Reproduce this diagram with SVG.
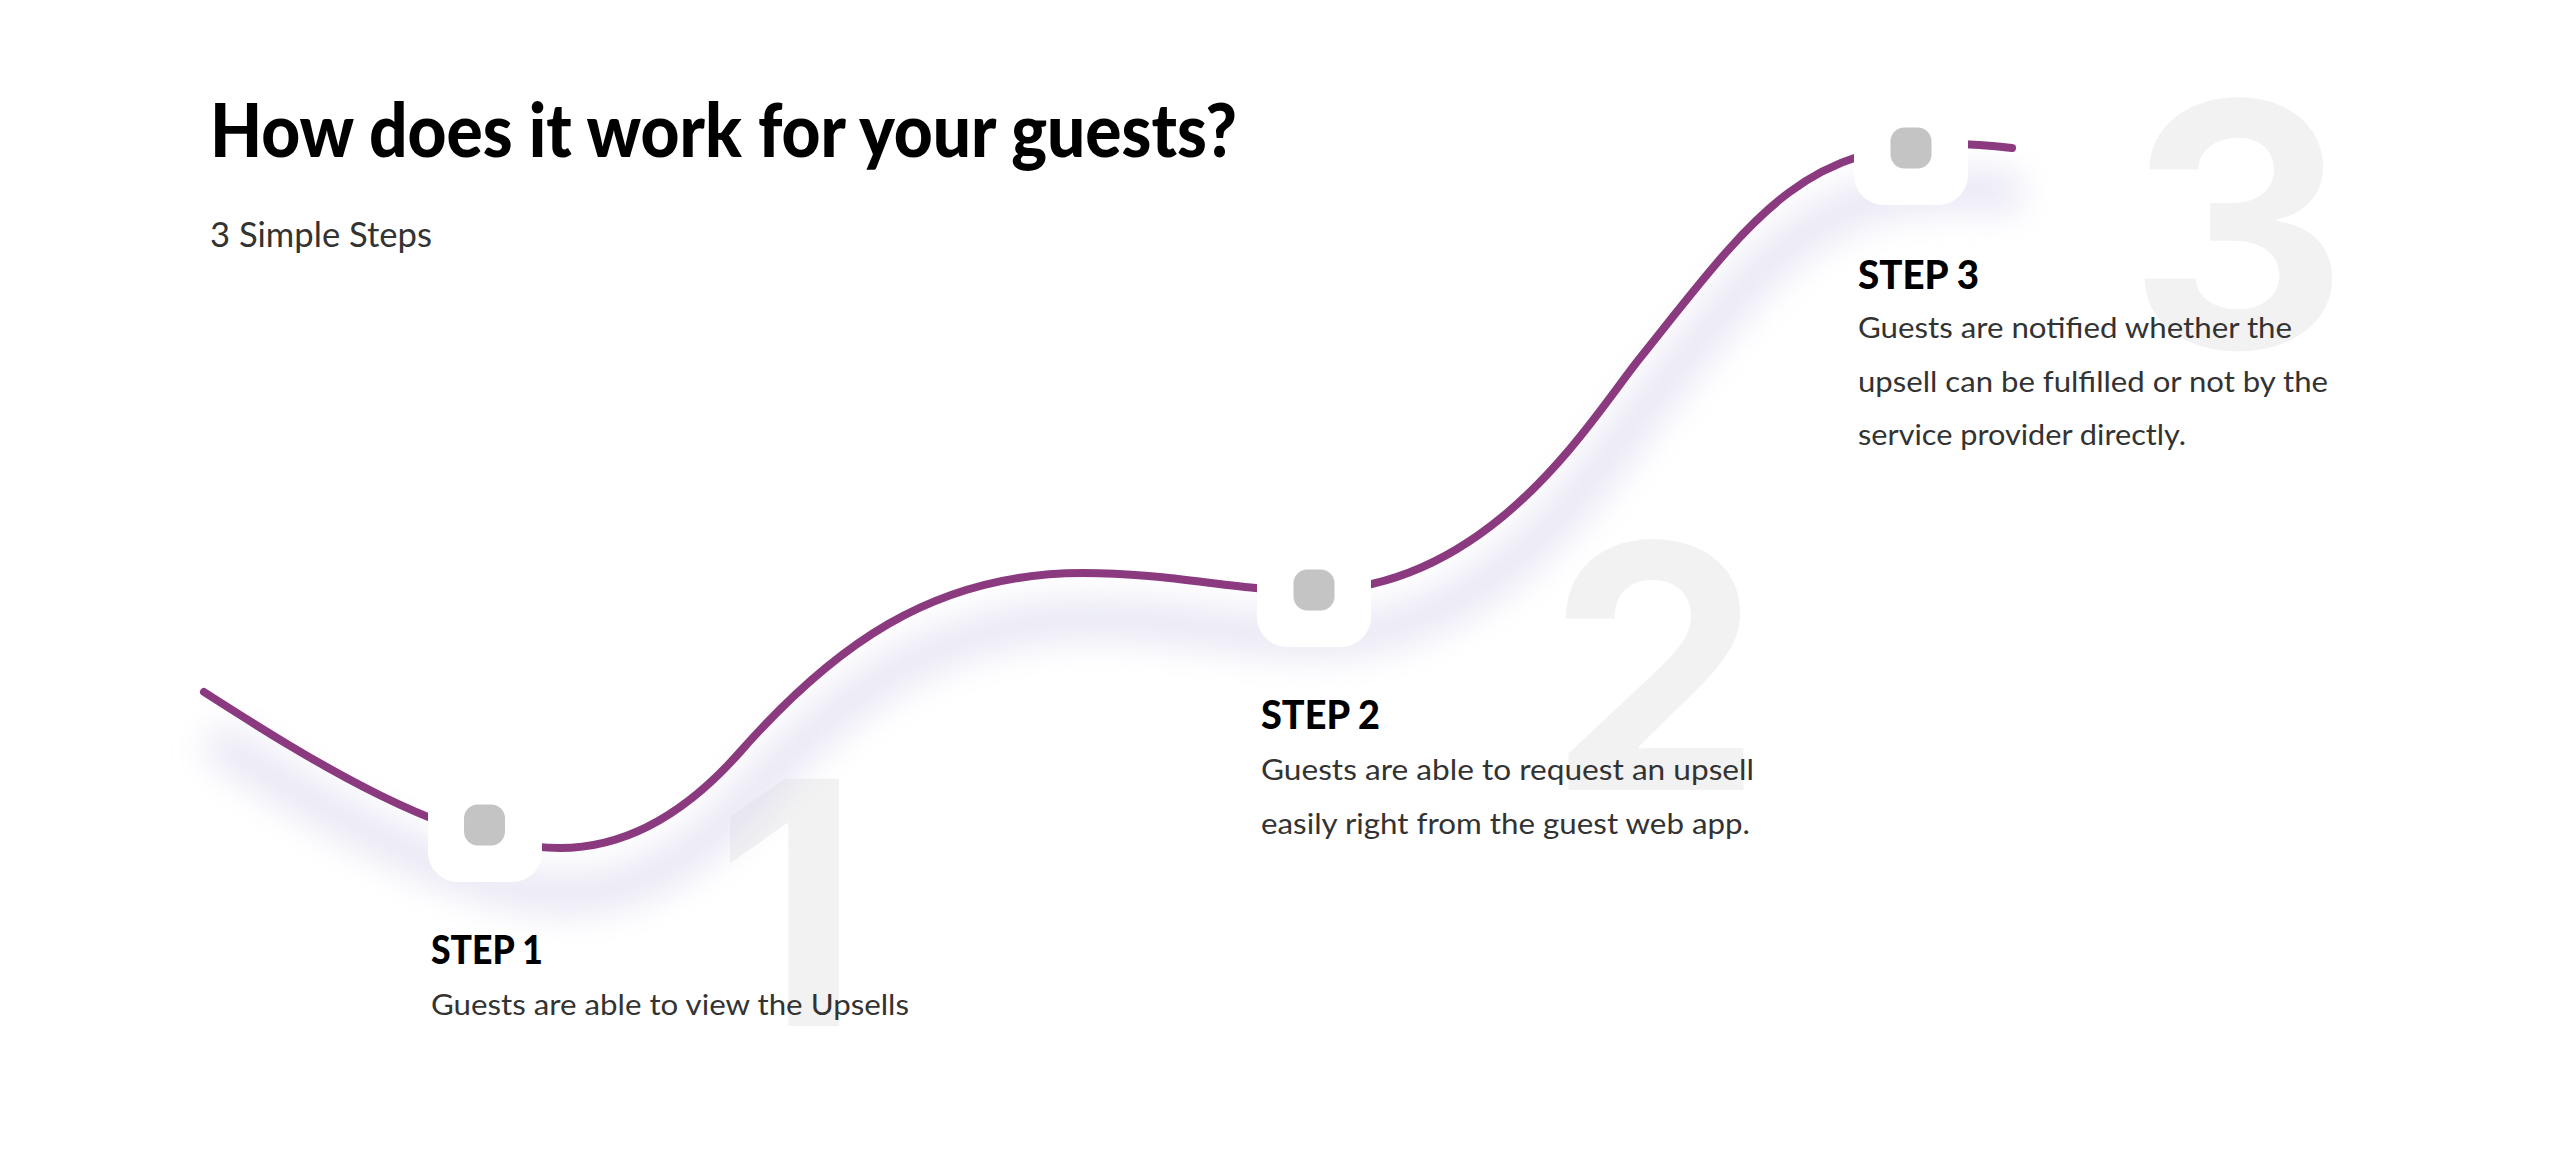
<svg xmlns="http://www.w3.org/2000/svg" width="2558" height="1154" viewBox="0 0 2558 1154">
<defs>
<filter id="blur" x="-20%" y="-20%" width="140%" height="140%"><feGaussianBlur stdDeviation="18"/></filter>
<path id="curve" d="M204,692 C310,760 450,848 560,848 C630,848 690,808.7 740,752 C830,650 930,573 1083,573 C1170,573 1240,591 1310,591 C1490,591 1590,420.5 1640,358 C1750,220.5 1800,144 1950,144 C1975,144 1995,146 2012,148"/>
</defs>
<style>
.digit{font-family:Inter,"Liberation Sans",sans-serif;font-weight:700;font-size:340px;fill:#f2f2f2;text-anchor:middle}
.title{font-family:Lato,"Liberation Sans",sans-serif;font-weight:900;font-size:74px;fill:#000}
.sub{font-family:Lato,"Liberation Sans",sans-serif;font-weight:400;font-size:34px;fill:#333}
.step{font-family:Lato,"Liberation Sans",sans-serif;font-weight:900;font-size:40px;fill:#000}
.body{font-family:Lato,"Liberation Sans",sans-serif;font-weight:400;font-size:29px;fill:#333}
.box{fill:#fff}
.dot{fill:#c4c4c4}
</style>
<rect width="2558" height="1154" fill="#fff"/>
<g id="digits">
<text class="digit" x="788" y="1026">1</text>
<text class="digit" x="1655" y="790">2</text>
<text class="digit" x="2238" y="348">3</text>
</g>
<g id="header">
<text class="title" x="210" y="157" textLength="1027" lengthAdjust="spacingAndGlyphs">How does it work for your guests?</text>
<text class="sub" x="210" y="247" textLength="222" lengthAdjust="spacingAndGlyphs">3 Simple Steps</text>
</g>
<g id="connectors">
<use href="#curve" fill="none" stroke="#dddbf0" stroke-opacity="0.7" stroke-width="38" transform="translate(8,46)" filter="url(#blur)"/>
<use href="#curve" fill="none" stroke="#8b3a7f" stroke-width="8" stroke-linecap="round"/>
</g>
<g id="step1">
<rect class="box" x="428" y="768" width="114" height="114" rx="30"/>
<rect class="dot" x="464" y="804.5" width="41" height="41" rx="14"/>
<text class="step" x="431" y="964" textLength="112" lengthAdjust="spacingAndGlyphs">STEP 1</text>
<text class="body" x="431" y="1015" textLength="478" lengthAdjust="spacingAndGlyphs">Guests are able to view the Upsells</text>
</g>
<g id="step2">
<rect class="box" x="1257" y="533" width="114" height="114" rx="30"/>
<rect class="dot" x="1293.5" y="569.5" width="41" height="41" rx="14"/>
<text class="step" x="1261" y="729" textLength="119" lengthAdjust="spacingAndGlyphs">STEP 2</text>
<text class="body" x="1261" y="780" textLength="493" lengthAdjust="spacingAndGlyphs">Guests are able to request an upsell</text>
<text class="body" x="1261" y="834" textLength="489" lengthAdjust="spacingAndGlyphs">easily right from the guest web app.</text>
</g>
<g id="step3">
<rect class="box" x="1854" y="91" width="114" height="114" rx="30"/>
<rect class="dot" x="1890.5" y="127.5" width="41" height="41" rx="14"/>
<text class="step" x="1858" y="289" textLength="121" lengthAdjust="spacingAndGlyphs">STEP 3</text>
<text class="body" x="1858" y="338" textLength="434" lengthAdjust="spacingAndGlyphs">Guests are notified whether the</text>
<text class="body" x="1858" y="392" textLength="470" lengthAdjust="spacingAndGlyphs">upsell can be fulfilled or not by the</text>
<text class="body" x="1858" y="445" textLength="328" lengthAdjust="spacingAndGlyphs">service provider directly.</text>
</g>
</svg>
